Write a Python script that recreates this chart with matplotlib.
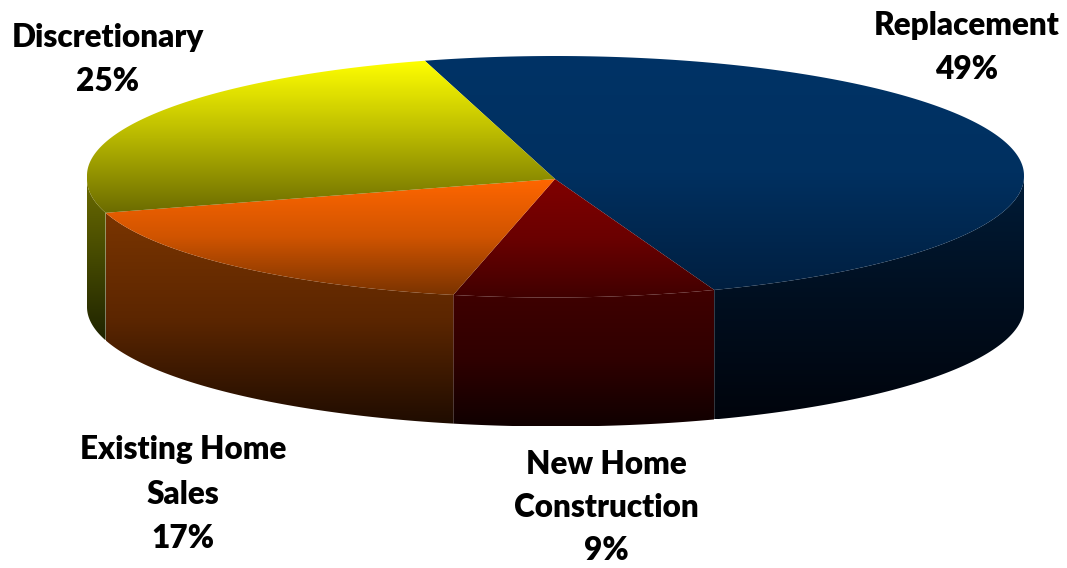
import numpy as np
import matplotlib
matplotlib.use('Agg')
import matplotlib.pyplot as plt
from matplotlib.colors import LinearSegmentedColormap
from matplotlib.patches import Polygon

# Market split, clockwise from the top of the pie
categories = ['Replacement', 'New Home\nConstruction', 'Existing Home\nSales', 'Discretionary']
shares = [49, 9, 17, 25]

# Top-face and side-face gradient stops for each slice, top to bottom
top_colors = [
    ['#003366', '#003060', '#001f40'],
    ['#800000', '#6a0000', '#400000'],
    ['#ff6600', '#d05400', '#7a3300'],
    ['#ffff00', '#b8b800', '#6b6b00'],
]
side_colors = [
    ['#001c38', '#000f20', '#00040c'],
    ['#400000', '#300000', '#100000'],
    ['#7a3500', '#5c2600', '#1f0c00'],
    ['#6b6b00', '#444800', '#1f2400'],
]

# Centre of each label and its line spacing, in pixels
label_pos = [(967, 25), (606, 465), (183, 450), (108, 37)]
line_gaps = [44.5, 42.5, 44.5, 44.5]

W, H = 1067, 568
cx, cy, rx, ry = 555.5, 175.5, 468.5, 119.5
apex = (555, 179)
depth = 131.5
start = -16.2

fig = plt.figure(figsize=(W / 100, H / 100), dpi=100)
ax = fig.add_axes([0, 0, 1, 1])
ax.set_xlim(0, W)
ax.set_ylim(H, 0)
ax.axis('off')


def arc(t0, t1, dy=0):
    t = np.radians(np.linspace(t0, t1, 200))
    y = cy + dy - ry * np.cos(t)
    if dy == 0:
        # front of the top rim sits a little lower, more so on the left
        y = y + np.where(np.cos(t) < 0, 2.5 - 1.5 * np.sin(t), 0)
    return np.column_stack([cx + rx * np.sin(t), y])


def gradient_face(points, colors, z):
    # vertical gradient spanning the face, clipped to its outline
    cmap = LinearSegmentedColormap.from_list('face', colors)
    y0, y1 = points[:, 1].min(), points[:, 1].max()
    x0, x1 = points[:, 0].min(), points[:, 0].max()
    grad = np.linspace(0, 1, 256).reshape(-1, 1)
    im = ax.imshow(grad, cmap=cmap, aspect='auto', extent=(x0, x1, y1, y0),
                   zorder=z, interpolation='bilinear')
    patch = Polygon(points, closed=True, transform=ax.transData, fc='none', ec='none')
    ax.add_patch(patch)
    im.set_clip_path(patch)


# slice boundaries as angles around the rim
edges = start + np.cumsum([0] + shares) * 3.6

for i in range(len(shares)):
    t0, t1 = edges[i], edges[i + 1]
    # the side wall only shows along the front half of the rim
    s0, s1 = max(t0, 90), min(t1, 270)
    if s1 > s0:
        wall = np.vstack([arc(s0, s1), arc(s1, s0, depth)])
        gradient_face(wall, side_colors[i], 2)
    face = np.vstack([[apex], arc(t0, t1)])
    gradient_face(face, top_colors[i], 3)

ax.set_xlim(0, W)
ax.set_ylim(H, 0)

for name, share, (x, y), gap in zip(categories, shares, label_pos, line_gaps):
    lines = name.split('\n') + [f'{share}%']
    for k, line in enumerate(lines):
        ax.text(x, y + k * gap, line, ha='center', va='center', color='black',
                fontsize=22.7, fontweight='heavy', family='Lato', zorder=5)

fig.savefig('out.png', dpi=100)
